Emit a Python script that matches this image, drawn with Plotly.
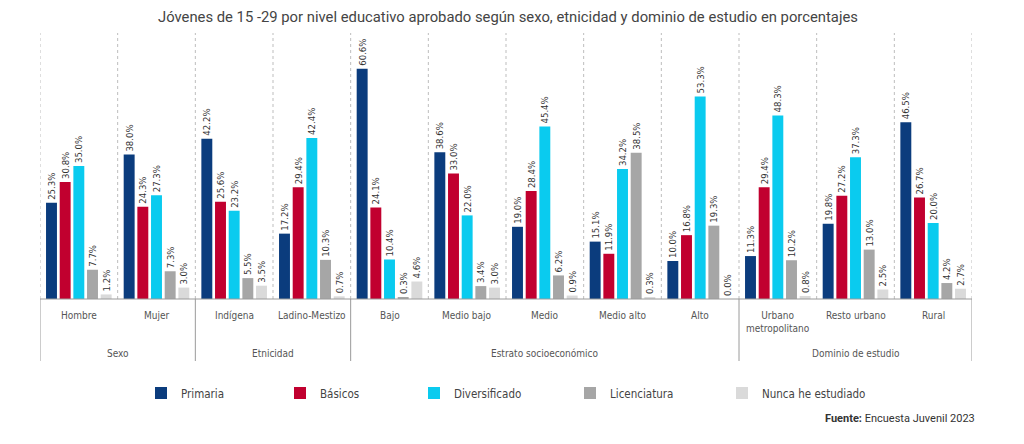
import plotly.graph_objects as go

# ---- data ----
groups = ["Sexo", "Etnicidad", "Estrato socioeconómico", "Dominio de estudio"]
group_members = [
    ["Hombre", "Mujer"],
    ["Indígena", "Ladino-Mestizo"],
    ["Bajo", "Medio bajo", "Medio", "Medio alto", "Alto"],
    ["Urbano metropolitano", "Resto urbano", "Rural"],
]
categories = [c for g in group_members for c in g]
category_labels = ["Hombre", "Mujer", "Indígena", "Ladino-Mestizo", "Bajo", "Medio bajo",
                   "Medio", "Medio alto", "Alto", "Urbano<br>metropolitano", "Resto urbano", "Rural"]

series_names = ["Primaria", "Básicos", "Diversificado", "Licenciatura", "Nunca he estudiado"]
primaria = [25.3, 38.0, 42.2, 17.2, 60.6, 38.6, 19.0, 15.1, 10.0, 11.3, 19.8, 46.5]
basicos = [30.8, 24.3, 25.6, 29.4, 24.1, 33.0, 28.4, 11.9, 16.8, 29.4, 27.2, 26.7]
diversificado = [35.0, 27.3, 23.2, 42.4, 10.4, 22.0, 45.4, 34.2, 53.3, 48.3, 37.3, 20.0]
licenciatura = [7.7, 7.3, 5.5, 10.3, 0.3, 3.4, 6.2, 38.5, 19.3, 10.2, 13.0, 4.2]
nunca = [1.2, 3.0, 3.5, 0.7, 4.6, 3.0, 0.9, 0.3, 0.0, 0.8, 2.5, 2.7]
series_values = [primaria, basicos, diversificado, licenciatura, nunca]

# ---- styles ----
colors = ["#0B3C7D", "#C1002F", "#0ACBEF", "#A6A6A6", "#DADADA"]
NARROW = "DejaVu Sans Condensed, Liberation Sans Narrow, sans-serif"
ROBOTO = "Roboto, sans-serif"
legend_text_px = [183, 322, 456, 612, 764]

# page has an 8px body margin: figure drawn 8px smaller, coordinates in page pixels
OFF = 8
W, H = 1024 - OFF, 444 - OFF
PLOT_L, PLOT_R, PLOT_T, PLOT_B = 40, 972, 33, 299   # page pixels
ML, MR, MT, MB = PLOT_L - OFF, W - (PLOT_R - OFF), PLOT_T - OFF, H - (PLOT_B - OFF)
PW = PLOT_R - PLOT_L
PH = PLOT_B - PLOT_T


def py(pix):
    """page pixel y (from top) -> paper y"""
    return (PLOT_B - pix) / PH


def px(pix):
    """page pixel x -> paper x"""
    return (pix - PLOT_L) / PW


fig = go.Figure()
legend_ids = ["legend", "legend2", "legend3", "legend4", "legend5"]
for name, vals, col, lid in zip(series_names, series_values, colors, legend_ids):
    fig.add_trace(go.Bar(
        x=categories, y=vals, name=name, marker=dict(color=col, line=dict(width=0)),
        texttemplate="%{y:.1f}%", textposition="outside", textangle=-90,
        constraintext="none", cliponaxis=False,
        textfont=dict(family=NARROW, size=9.5, color="#333333"),
        legend=lid, hoverinfo="x+y+name",
    ))

shapes = []
# dotted category separators
for i in range(len(categories) + 1):
    shapes.append(dict(type="line", xref="x", yref="paper", x0=i - 0.5, x1=i - 0.5,
                       y0=0, y1=1, line=dict(color="#BDBDBD", width=1, dash="dot")))
# group dividers below axis
bounds = [-0.5]
for g in group_members:
    bounds.append(bounds[-1] + len(g))
for b in bounds:
    shapes.append(dict(type="line", xref="x", yref="paper", x0=b, x1=b,
                       y0=0, y1=py(361), line=dict(color="#9A9A9A", width=1)))
# baseline
shapes.append(dict(type="line", xref="paper", yref="paper", x0=0, x1=1, y0=0, y1=0,
                   line=dict(color="#9A9A9A", width=1)))

annotations = []
n = len(categories)
for i, lab in enumerate(category_labels):
    annotations.append(dict(x=(i + 0.5) / n, xref="paper", y=py(308), yref="paper",
                            yanchor="top", xanchor="center", text=lab, showarrow=False,
                            align="center",
                            font=dict(family=NARROW, size=10, color="#555555")))
for gi, g in enumerate(groups):
    center = (bounds[gi] + bounds[gi + 1]) / 2 + 0.5
    annotations.append(dict(x=center / n, xref="paper", y=py(353), yref="paper",
                            yanchor="middle", xanchor="center", text=g, showarrow=False,
                            font=dict(family=NARROW, size=10, color="#555555")))
# titles
annotations.append(dict(x=px(512), xref="paper", xanchor="center", y=py(1), yref="paper",
                        yanchor="middle", showarrow=False, text="<b>Gráfica 08</b>",
                        font=dict(family=ROBOTO, size=13, color="#333333")))
annotations.append(dict(x=px(508), xref="paper", xanchor="center", y=py(16.5),
                        yref="paper", yanchor="middle", showarrow=False,
                        text="Jóvenes de 15 -29 por nivel educativo aprobado según sexo, etnicidad y dominio de estudio en porcentajes",
                        font=dict(family=ROBOTO, size=14.8, color="#444444")))
annotations.append(dict(x=px(977), xref="paper", xanchor="right", y=py(418),
                        yref="paper", yanchor="middle", showarrow=False,
                        text="<b>Fuente:</b> Encuesta Juvenil 2023",
                        font=dict(family=ROBOTO, size=11, color="#333333")))

layout_legends = {}
for lid, tx in zip(legend_ids, legend_text_px):
    layout_legends[lid] = dict(
        x=px(tx - 42), xanchor="left", y=py(393), yanchor="middle",
        orientation="h", bgcolor="rgba(0,0,0,0)",
        font=dict(family=NARROW, size=11.5, color="#444444"),
        itemwidth=30,
    )

fig.update_layout(
    width=W, height=H,
    margin=dict(l=ML, r=MR, t=MT, b=MB, pad=0, autoexpand=False),
    paper_bgcolor="white", plot_bgcolor="white",
    barmode="group", bargap=0.12, bargroupgap=0.2,
    showlegend=True,
    xaxis=dict(type="category", showticklabels=False, showgrid=False, zeroline=False,
               showline=False, ticks="", range=[-0.5, n - 0.5]),
    yaxis=dict(range=[0, 70], visible=False, showgrid=False, zeroline=False),
    shapes=shapes, annotations=annotations,
    **layout_legends,
)

fig.write_html("out.html")
